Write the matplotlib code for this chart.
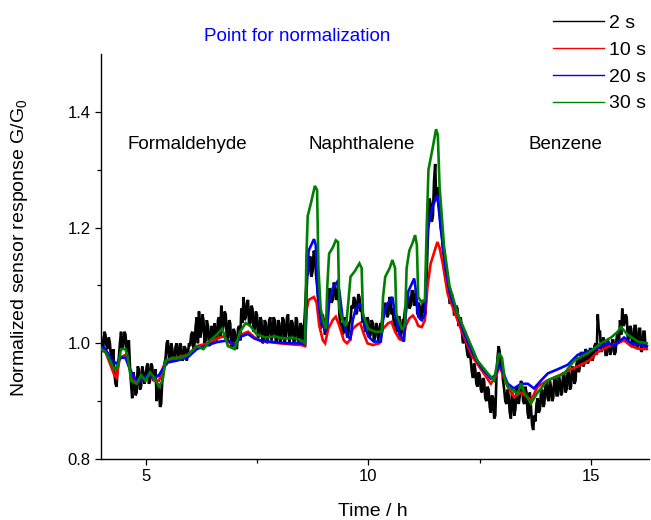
import numpy as np
import matplotlib
matplotlib.use("Agg")
import matplotlib.pyplot as plt
from matplotlib.lines import Line2D
from matplotlib.ticker import FixedLocator

plt.rcParams['font.family'] = ['Liberation Sans', 'DejaVu Sans']
plt.rcParams['mathtext.default'] = 'regular'

# ---- 2 s sampling: raw signal, read every 0.025 h from 4.000 h ----
# "even" samples sit at 4.000, 4.050, ... ; "odd" samples at 4.025, 4.075, ...
t0_black = 4.0
dt_black = 0.025
black_h4 = [1.01, 0.99, 1.015, 0.99, 1.0, 0.965, 0.95, 0.925, 0.975, 1.02,
            0.995, 1.015, 0.985, 0.96, 0.905, 0.94, 0.915, 0.955, 0.925, 0.95]
black_h4_odd = [0.985, 1.02, 0.995, 1.01, 0.975, 0.99, 0.93, 0.96, 1.0, 0.99,
                1.02, 0.99, 1.005, 0.93, 0.95, 0.91, 0.96, 0.92, 0.96, 0.93]
black_h5 = [0.94, 0.965, 0.935, 0.96, 0.94, 0.9, 0.925, 0.895, 0.95, 0.975,
            1.005, 0.97, 0.99, 0.975, 1.0, 0.98, 0.995, 0.975, 0.99, 0.98]
black_h5_odd = [0.96, 0.93, 0.965, 0.935, 0.955, 0.93, 0.89, 0.935, 0.965, 1.0,
                0.975, 1.0, 0.97, 0.995, 0.975, 1.0, 0.97, 0.995, 0.97, 1.0]
black_h6 = [0.995, 1.02, 1.0, 1.045, 1.055, 1.02, 1.04, 1.005, 1.03, 1.0,
            1.025, 1.035, 1.005, 1.045, 1.065, 1.03, 1.05, 1.01, 1.035, 0.995]
black_h6_odd = [1.015, 0.99, 1.03, 1.0, 1.01, 1.05, 1.0, 1.04, 0.995, 1.03,
                1.0, 1.01, 1.04, 1.01, 1.02, 1.055, 1.005, 1.04, 0.995, 1.025]
black_h7 = [1.02, 0.99, 1.03, 1.06, 1.08, 1.045, 1.075, 1.035, 1.06, 1.025,
            1.05, 1.015, 1.04, 1.005, 1.035, 1.01, 1.045, 1.015, 1.04, 1.005]
black_h7_odd = [0.995, 1.025, 1.005, 1.035, 1.04, 1.07, 1.03, 1.065, 1.02, 1.055,
                1.01, 1.045, 1.0, 1.04, 1.0, 1.04, 1.005, 1.045, 1.0, 1.04]
black_h8 = [1.035, 1.01, 1.04, 1.015, 1.05, 1.01, 1.035, 1.005, 1.04, 1.0,
            1.03, 1.02, 1.09, 1.12, 1.15, 1.125, 1.155, 1.1, 1.05, 1.03]
black_h8_odd = [1.0, 1.045, 1.0, 1.045, 1.0, 1.04, 1.0, 1.045, 1.0, 1.035,
                1.0, 1.05, 1.12, 1.145, 1.115, 1.16, 1.12, 1.075, 1.025, 1.05]
black_h9 = [1.04, 1.02, 1.07, 1.09, 1.075, 1.1, 1.08, 1.05, 1.035, 1.02,
            1.04, 1.015, 1.04, 1.06, 1.075, 1.055, 1.08, 1.06, 1.045, 1.025]
black_h9_odd = [1.015, 1.045, 1.095, 1.07, 1.105, 1.075, 1.1, 1.03, 1.015, 1.045,
                1.01, 1.035, 1.065, 1.08, 1.05, 1.085, 1.055, 1.035, 1.02, 1.045]
black_h10 = [1.04, 1.015, 1.035, 1.01, 1.03, 1.015, 1.03, 1.05, 1.065, 1.05,
             1.075, 1.06, 1.04, 1.025, 1.045, 1.02, 1.04, 1.065, 1.08, 1.065]
black_h10_odd = [1.01, 1.04, 1.005, 1.035, 1.005, 1.035, 1.055, 1.07, 1.045, 1.08,
                 1.05, 1.03, 1.02, 1.045, 1.01, 1.04, 1.06, 1.085, 1.06, 1.09]
black_h11 = [1.09, 1.07, 1.05, 1.065, 1.045, 1.07, 1.08, 1.21, 1.24, 1.22,
             1.31, 1.27, 1.23, 1.19, 1.15, 1.11, 1.09, 1.07, 1.075, 1.05]
black_h11_odd = [1.065, 1.095, 1.07, 1.04, 1.075, 1.05, 1.16, 1.25, 1.21, 1.28,
                 1.25, 1.24, 1.2, 1.16, 1.13, 1.12, 1.07, 1.085, 1.05, 1.065]
black_h12 = [1.06, 1.035, 1.02, 1.005, 0.995, 0.975, 0.97, 0.94, 0.955, 0.925,
             0.945, 0.915, 0.935, 0.9, 0.92, 0.88, 0.905, 0.875, 0.975, 0.985]
black_h12_odd = [1.03, 1.045, 1.0, 1.02, 0.98, 0.99, 0.95, 0.965, 0.93, 0.95,
                 0.92, 0.94, 0.905, 0.925, 0.89, 0.91, 0.87, 0.94, 0.995, 0.955]
black_h13 = [0.96, 0.92, 0.895, 0.91, 0.87, 0.905, 0.885, 0.925, 0.91, 0.93,
             0.895, 0.915, 0.87, 0.89, 0.85, 0.865, 0.905, 0.885, 0.92, 0.895]
black_h13_odd = [0.935, 0.9, 0.92, 0.88, 0.915, 0.875, 0.92, 0.895, 0.935, 0.9,
                 0.925, 0.88, 0.915, 0.86, 0.875, 0.895, 0.88, 0.915, 0.89, 0.93]
black_h14 = [0.935, 0.9, 0.925, 0.905, 0.94, 0.91, 0.935, 0.915, 0.945, 0.92,
             0.95, 0.925, 0.955, 0.935, 0.975, 0.96, 0.98, 0.965, 0.985, 0.97]
black_h14_odd = [0.905, 0.935, 0.9, 0.94, 0.91, 0.945, 0.91, 0.95, 0.915, 0.955,
                 0.92, 0.96, 0.93, 0.965, 0.95, 0.985, 0.96, 0.99, 0.965, 0.99]
black_h15 = [0.99, 0.975, 1.0, 1.05, 1.02, 0.99, 1.0, 0.98, 1.0, 0.985,
             1.005, 0.985, 1.02, 1.04, 1.06, 1.035, 1.045, 1.01, 1.025, 0.995]
black_h15_odd = [0.97, 0.995, 0.98, 1.02, 0.985, 1.01, 0.98, 1.005, 0.98, 1.005,
                 0.98, 1.01, 1.0, 1.015, 1.03, 1.05, 1.005, 1.03, 0.995, 1.03]
black_h16 = [1.03, 0.995, 1.025, 0.99, 1.02, 0.995]
black_h16_odd = [0.99, 1.025, 0.985, 1.02, 0.99]

# ---- 10 s averaging: (time h, G/G0) ----
red_pts = [
    (4.0, 0.99), (4.1, 0.985), (4.2, 0.965), (4.3, 0.945), (4.35, 0.94), (4.42, 0.975),
    (4.55, 0.98), (4.65, 0.955), (4.75, 0.935), (4.85, 0.935), (5.0, 0.94), (5.1, 0.945),
    (5.2, 0.935), (5.3, 0.935), (5.4, 0.96), (5.5, 0.968), (5.7, 0.975), (5.95, 0.98),
    (6.15, 0.995), (6.4, 1.0), (6.6, 1.008), (6.75, 1.012), (6.9, 1.0), (7.0, 0.998),
    (7.15, 1.015), (7.3, 1.02), (7.45, 1.01), (7.6, 1.004), (8.0, 1.0), (8.3, 0.998),
    (8.5, 0.997), (8.58, 0.995), (8.62, 1.06), (8.66, 1.075), (8.78, 1.08), (8.84, 1.07),
    (8.9, 1.03), (8.98, 1.005), (9.03, 1.0), (9.1, 1.025), (9.2, 1.04), (9.27, 1.046),
    (9.35, 1.03), (9.45, 1.005), (9.52, 1.0), (9.58, 1.005), (9.65, 1.025), (9.75, 1.032),
    (9.82, 1.035), (9.88, 1.02), (9.98, 1.0), (10.1, 0.997), (10.25, 1.0), (10.33, 1.025),
    (10.45, 1.035), (10.52, 1.037), (10.6, 1.02), (10.7, 1.007), (10.78, 1.005), (10.84, 1.03),
    (10.92, 1.043), (11.0, 1.048), (11.07, 1.04), (11.12, 1.03), (11.2, 1.028), (11.27, 1.04),
    (11.33, 1.1), (11.4, 1.138), (11.55, 1.175), (11.6, 1.165), (11.67, 1.138), (11.78, 1.086),
    (11.92, 1.057), (12.1, 1.02), (12.34, 0.976), (12.53, 0.955), (12.75, 0.93), (12.88, 0.945),
    (12.93, 0.96), (13.0, 0.95), (13.13, 0.925), (13.27, 0.907), (13.43, 0.915), (13.6, 0.905),
    (13.65, 0.901), (13.8, 0.925), (14.0, 0.935), (14.3, 0.945), (14.55, 0.955), (14.7, 0.96),
    (14.95, 0.97), (15.15, 0.985), (15.4, 0.995), (15.6, 1.0), (15.74, 1.005), (15.9, 0.995),
    (16.1, 0.99), (16.25, 0.99),
]

# ---- 20 s averaging ----
blue_pts = [
    (4.0, 0.995), (4.1, 0.99), (4.25, 0.97), (4.35, 0.965), (4.45, 0.975), (4.55, 0.975),
    (4.65, 0.955), (4.75, 0.94), (4.85, 0.933), (4.95, 0.94), (5.05, 0.945), (5.2, 0.94),
    (5.3, 0.945), (5.4, 0.957), (5.5, 0.967), (5.7, 0.97), (5.95, 0.976), (6.15, 0.99),
    (6.4, 0.997), (6.6, 1.002), (6.85, 1.005), (7.0, 0.997), (7.15, 1.012), (7.3, 1.016),
    (7.45, 1.008), (7.6, 1.004), (7.9, 1.002), (8.2, 1.0), (8.5, 1.0), (8.58, 0.998),
    (8.62, 1.1), (8.66, 1.16), (8.78, 1.18), (8.82, 1.17), (8.86, 1.09), (8.93, 1.04),
    (9.04, 1.02), (9.08, 1.03), (9.12, 1.07), (9.2, 1.095), (9.3, 1.106), (9.35, 1.09),
    (9.42, 1.045), (9.53, 1.012), (9.6, 1.008), (9.65, 1.04), (9.72, 1.06), (9.79, 1.068),
    (9.85, 1.065), (9.92, 1.03), (10.0, 1.012), (10.12, 1.003), (10.28, 1.003), (10.33, 1.04),
    (10.4, 1.065), (10.54, 1.08), (10.6, 1.05), (10.69, 1.017), (10.8, 1.003), (10.84, 1.05),
    (10.9, 1.09), (11.03, 1.112), (11.07, 1.09), (11.12, 1.046), (11.2, 1.04), (11.27, 1.05),
    (11.33, 1.196), (11.44, 1.236), (11.55, 1.256), (11.63, 1.196), (11.74, 1.126), (11.85, 1.08),
    (12.0, 1.052), (12.15, 1.017), (12.34, 0.983), (12.53, 0.959), (12.75, 0.939), (12.85, 0.945),
    (12.93, 0.962), (12.98, 0.958), (13.13, 0.93), (13.27, 0.922), (13.43, 0.93), (13.58, 0.93),
    (13.72, 0.922), (13.88, 0.936), (14.03, 0.948), (14.25, 0.955), (14.48, 0.963), (14.7, 0.98),
    (14.93, 0.986), (15.15, 0.991), (15.38, 1.0), (15.52, 0.996), (15.74, 1.01), (15.9, 1.0),
    (16.12, 0.997), (16.25, 0.995),
]

# ---- 30 s averaging ----
green_pts = [
    (4.0, 0.99), (4.1, 0.985), (4.2, 0.97), (4.3, 0.955), (4.38, 0.96), (4.45, 0.99),
    (4.55, 0.99), (4.6, 0.975), (4.68, 0.935), (4.8, 0.93), (4.9, 0.945), (5.0, 0.935),
    (5.1, 0.95), (5.2, 0.94), (5.3, 0.925), (5.38, 0.935), (5.45, 0.97), (5.6, 0.975),
    (5.8, 0.975), (5.95, 0.98), (6.15, 0.995), (6.3, 0.99), (6.45, 1.005), (6.6, 1.015),
    (6.72, 1.025), (6.85, 0.995), (7.0, 0.99), (7.12, 1.02), (7.25, 1.035), (7.35, 1.03),
    (7.5, 1.015), (7.7, 1.01), (7.9, 1.012), (8.1, 1.008), (8.3, 1.01), (8.5, 1.005),
    (8.58, 1.0), (8.61, 1.15), (8.64, 1.22), (8.72, 1.245), (8.8, 1.272), (8.85, 1.265),
    (8.88, 1.13), (8.93, 1.06), (9.0, 1.035), (9.05, 1.025), (9.08, 1.1), (9.12, 1.155),
    (9.2, 1.165), (9.27, 1.178), (9.32, 1.175), (9.35, 1.06), (9.42, 1.04), (9.5, 1.03),
    (9.55, 1.07), (9.6, 1.115), (9.7, 1.125), (9.8, 1.138), (9.85, 1.13), (9.88, 1.05),
    (10.0, 1.025), (10.15, 1.02), (10.3, 1.02), (10.33, 1.08), (10.38, 1.115), (10.48, 1.13),
    (10.54, 1.144), (10.6, 1.13), (10.63, 1.05), (10.75, 1.025), (10.82, 1.03), (10.86, 1.13),
    (10.92, 1.16), (11.0, 1.175), (11.05, 1.187), (11.09, 1.17), (11.12, 1.08), (11.2, 1.07),
    (11.27, 1.075), (11.31, 1.2), (11.35, 1.3), (11.45, 1.34), (11.52, 1.37), (11.56, 1.36),
    (11.6, 1.27), (11.7, 1.167), (11.82, 1.1), (12.0, 1.052), (12.23, 1.01), (12.45, 0.97),
    (12.68, 0.948), (12.82, 0.936), (12.88, 0.96), (12.93, 0.983), (13.0, 0.975), (13.06, 0.94),
    (13.13, 0.925), (13.35, 0.913), (13.43, 0.93), (13.5, 0.915), (13.65, 0.896), (13.8, 0.915),
    (14.03, 0.936), (14.4, 0.948), (14.62, 0.97), (14.93, 0.983), (15.22, 1.0), (15.45, 1.01),
    (15.6, 1.02), (15.67, 1.028), (15.82, 1.015), (16.05, 1.003), (16.25, 1.0),
]

series_labels = ["2 s", "10 s", "20 s", "30 s"]
series_colors = ["#000000", "#ff0000", "#0000ff", "#008000"]
region_names = ["Formaldehyde", "Naphthalene", "Benzene"]
region_x = [5.93, 9.86, 14.42]

black_even = np.array(black_h4 + black_h5 + black_h6 + black_h7 + black_h8 + black_h9
                      + black_h10 + black_h11 + black_h12 + black_h13 + black_h14
                      + black_h15 + black_h16)
black_odd = np.array(black_h4_odd + black_h5_odd + black_h6_odd + black_h7_odd
                     + black_h8_odd + black_h9_odd + black_h10_odd + black_h11_odd
                     + black_h12_odd + black_h13_odd + black_h14_odd + black_h15_odd
                     + black_h16_odd)
black = np.empty(len(black_even) + len(black_odd))
black[0::2] = black_even
black[1::2] = black_odd
t_black = t0_black + dt_black * np.arange(len(black))

W, H = 651, 520
fig = plt.figure(figsize=(W / 100, H / 100), dpi=100)
ax = fig.add_axes([101 / W, 1 - 459 / H, 548 / W, 405 / H])

ax.plot(t_black, black, color=series_colors[0], lw=1.9, zorder=2,
        solid_joinstyle='miter')
for pts, c, z in [(red_pts, series_colors[1], 3), (blue_pts, series_colors[2], 4),
                  (green_pts, series_colors[3], 5)]:
    t, v = zip(*pts)
    ax.plot(t, v, color=c, lw=1.9, zorder=z, solid_joinstyle='miter')

ax.set_xlim(4.0, 16.3)
ax.set_ylim(0.8, 1.5)
ax.xaxis.set_major_locator(FixedLocator([5, 10, 15]))
ax.xaxis.set_minor_locator(FixedLocator([7.5, 12.5]))
ax.yaxis.set_major_locator(FixedLocator([0.8, 1.0, 1.2, 1.4]))
ax.yaxis.set_minor_locator(FixedLocator([0.9, 1.1, 1.3]))
ax.set_yticklabels(["0.8", "1.0", "1.2", "1.4"])
ax.set_xticklabels(["5", "10", "15"])
for s in ["top", "right"]:
    ax.spines[s].set_visible(False)
for s in ["left", "bottom"]:
    ax.spines[s].set_linewidth(1.0)
ax.tick_params(which="major", direction="out", length=4.5, width=0.9, labelsize=12, pad=3)
ax.tick_params(which="minor", direction="out", length=2.6, width=0.9)

fig.text(20 / W, 1 - 248 / H, "Normalized sensor response G/G$_0$", rotation=90,
         ha="center", va="center", fontsize=14)
fig.text(373 / W, 1 - 512 / H, "Time / h", ha="center", va="center", fontsize=14)

for name, x in zip(region_names, region_x):
    ax.text(x, 1.343, name, ha="center", va="center", fontsize=13.5)
ax.text(8.4, 1.53, "Point for normalization", ha="center", va="center",
        fontsize=13.5, color="#0000ff", clip_on=False)

handles = [Line2D([], [], color=c, lw=1.0) for c in series_colors]
fig.legend(handles, series_labels, loc="upper left", bbox_to_anchor=(553 / W, 1 - 14 / H),
           frameon=False, fontsize=14, handlelength=2.6, handletextpad=0.3,
           labelspacing=0.48, borderpad=0, borderaxespad=0)

fig.savefig("out.png", dpi=100)
